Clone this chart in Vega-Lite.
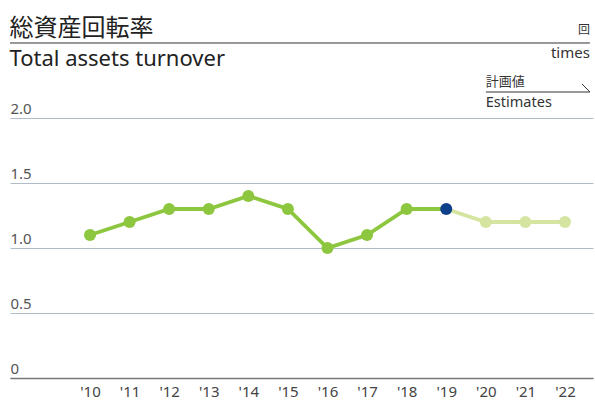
{
  "$schema": "https://vega.github.io/schema/vega-lite/v6.json",
  "width": 583,
  "height": 260,
  "autosize": {"type": "none"},
  "padding": {"left": 10, "right": 2, "top": 118, "bottom": 23},
  "background": "white",
  "title": {
    "text": "総資産回転率",
    "subtitle": "Total assets turnover",
    "anchor": "start",
    "font": "Noto Sans CJK JP",
    "fontSize": 24,
    "fontWeight": "normal",
    "color": "#222222",
    "subtitleFont": "Noto Sans",
    "subtitleFontSize": 22,
    "subtitleColor": "#222222",
    "subtitlePadding": 8,
    "offset": -46
  },
  "data": {
    "values": [
      {"year": 2010, "value": 1.1, "status": "actual"},
      {"year": 2011, "value": 1.2, "status": "actual"},
      {"year": 2012, "value": 1.3, "status": "actual"},
      {"year": 2013, "value": 1.3, "status": "actual"},
      {"year": 2014, "value": 1.4, "status": "actual"},
      {"year": 2015, "value": 1.3, "status": "actual"},
      {"year": 2016, "value": 1.0, "status": "actual"},
      {"year": 2017, "value": 1.1, "status": "actual"},
      {"year": 2018, "value": 1.3, "status": "actual"},
      {"year": 2019, "value": 1.3, "status": "latest"},
      {"year": 2020, "value": 1.2, "status": "estimate"},
      {"year": 2021, "value": 1.2, "status": "estimate"},
      {"year": 2022, "value": 1.2, "status": "estimate"}
    ]
  },
  "layer": [
    {
      "transform": [{"filter": "datum.year >= 2019"}],
      "mark": {"type": "line", "color": "#d5e5a1", "strokeWidth": 3.8},
      "encoding": {
        "x": {"field": "year", "type": "quantitative", "title": null,
          "scale": {"domain": [2007.979, 2022.708], "nice": false, "zero": false},
          "axis": {"values": [2010, 2011, 2012, 2013, 2014, 2015, 2016, 2017, 2018, 2019, 2020, 2021, 2022],
            "labelExpr": "\"'\" + slice(toString(datum.value), 2)",
            "grid": false, "ticks": false, "domain": true, "domainColor": "#777777", "domainWidth": 1.5,
            "labelPadding": 6, "labelFontSize": 15, "labelColor": "#444444", "labelFont": "Noto Sans"}},
        "y": {"field": "value", "type": "quantitative", "title": null,
          "scale": {"domain": [0, 2], "nice": false},
          "axis": {"values": [0, 0.5, 1, 1.5, 2],
            "labelExpr": "datum.value == 0 ? '0' : format(datum.value, '.1f')",
            "grid": true, "gridColor": "#aebdc8", "gridWidth": 1,
            "domain": false, "ticks": false, "tickSize": 0,
            "labelAlign": "left", "labelBaseline": "alphabetic", "labelPadding": 0, "labelOffset": -5,
            "labelFontSize": 15, "labelColor": "#555555", "labelFont": "Noto Sans"}}
      }
    },
    {
      "transform": [{"filter": "datum.year <= 2019"}],
      "mark": {"type": "line", "color": "#8dc63f", "strokeWidth": 3.8},
      "encoding": {
        "x": {"field": "year", "type": "quantitative", "title": null},
        "y": {"field": "value", "type": "quantitative", "title": null}
      }
    },
    {
      "mark": {"type": "point", "filled": true, "size": 145, "opacity": 1},
      "encoding": {
        "x": {"field": "year", "type": "quantitative", "title": null},
        "y": {"field": "value", "type": "quantitative", "title": null},
        "color": {"field": "status", "type": "nominal", "legend": null,
          "scale": {"domain": ["actual", "latest", "estimate"], "range": ["#8dc63f", "#0d3f8a", "#d5e5a1"]}}
      }
    },
    {
      "data": {"values": [{}]},
      "mark": {"type": "rule", "color": "#333333", "strokeWidth": 1},
      "encoding": {
        "x": {"datum": 2007.979, "type": "quantitative", "title": null},
        "x2": {"datum": 2022.63},
        "y": {"datum": 2.577, "type": "quantitative", "title": null}
      }
    },
    {
      "data": {"values": [{}]},
      "mark": {"type": "rule", "color": "#333333", "strokeWidth": 1},
      "encoding": {
        "x": {"datum": 2020.0, "type": "quantitative", "title": null},
        "x2": {"datum": 2022.63},
        "y": {"datum": 2.2, "type": "quantitative", "title": null}
      }
    },
    {
      "data": {"values": [{}]},
      "mark": {"type": "rule", "color": "#333333", "strokeWidth": 1},
      "encoding": {
        "x": {"datum": 2022.43, "type": "quantitative", "title": null},
        "x2": {"datum": 2022.63},
        "y": {"datum": 2.262, "type": "quantitative", "title": null},
        "y2": {"datum": 2.2}
      }
    },
    {
      "data": {"values": [{"t": "回"}]},
      "mark": {"type": "text", "align": "right", "baseline": "middle", "font": "Noto Sans CJK JP", "fontSize": 12, "color": "#333333"},
      "encoding": {
        "text": {"field": "t"},
        "x": {"datum": 2022.63, "type": "quantitative", "title": null},
        "y": {"datum": 2.677, "type": "quantitative", "title": null}
      }
    },
    {
      "data": {"values": [{"t": "times"}]},
      "mark": {"type": "text", "align": "right", "baseline": "middle", "font": "Noto Sans", "fontSize": 15, "color": "#333333"},
      "encoding": {
        "text": {"field": "t"},
        "x": {"datum": 2022.63, "type": "quantitative", "title": null},
        "y": {"datum": 2.5, "type": "quantitative", "title": null}
      }
    },
    {
      "data": {"values": [{"t": "計画値"}]},
      "mark": {"type": "text", "align": "left", "baseline": "middle", "font": "Noto Sans CJK JP", "fontSize": 13, "color": "#333333"},
      "encoding": {
        "text": {"field": "t"},
        "x": {"datum": 2020.0, "type": "quantitative", "title": null},
        "y": {"datum": 2.277, "type": "quantitative", "title": null}
      }
    },
    {
      "data": {"values": [{"t": "Estimates"}]},
      "mark": {"type": "text", "align": "left", "baseline": "middle", "font": "Noto Sans", "fontSize": 14.5, "color": "#333333"},
      "encoding": {
        "text": {"field": "t"},
        "x": {"datum": 2020.0, "type": "quantitative", "title": null},
        "y": {"datum": 2.115, "type": "quantitative", "title": null}
      }
    }
  ],
  "config": {
    "view": {"stroke": null},
    "axis": {"labelFont": "Noto Sans"}
  }
}
